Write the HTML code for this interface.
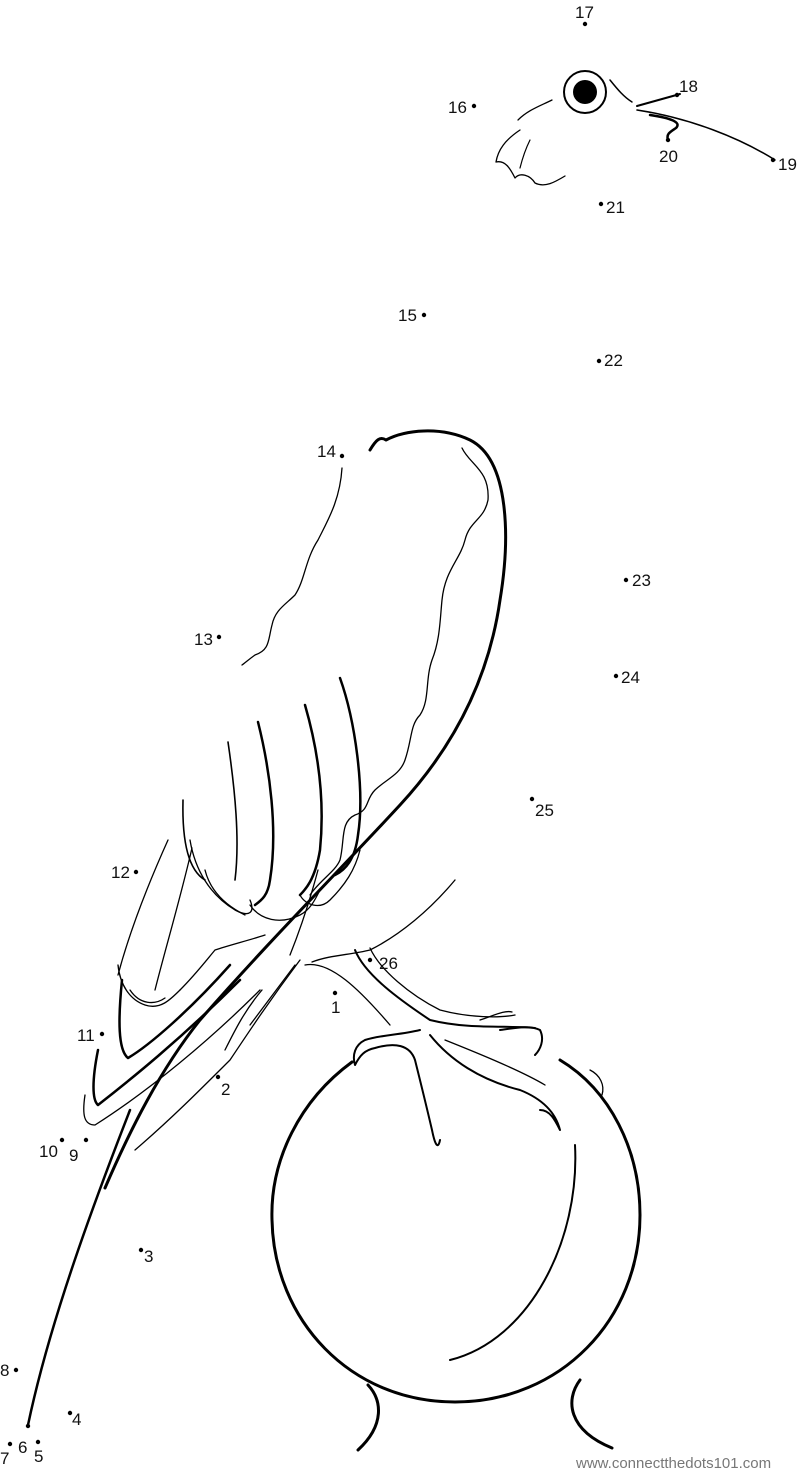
<!DOCTYPE html>
<html><head><meta charset="utf-8"><style>
html,body{margin:0;padding:0;background:#fff}
svg{display:block}
text{font-family:"Liberation Sans",sans-serif;font-size:17px;fill:#111}
</style></head><body>
<svg width="800" height="1472" viewBox="0 0 800 1472" xmlns="http://www.w3.org/2000/svg">
<g fill="none" stroke="#000" stroke-linecap="round" stroke-linejoin="round">
<!-- head -->
<circle cx="585" cy="92" r="21" stroke-width="2"/>
<circle cx="585" cy="92" r="12" fill="#000" stroke="none"/>
<path d="M610 80 C618 90 624 97 632 102" stroke-width="1.5"/>
<path d="M637 106 L680 94" stroke-width="2"/>
<path d="M637 110 C690 118 740 138 775 160" stroke-width="1.5"/>
<path d="M650 115 C670 118 682 122 676 128 C670 132 666 134 668 140" stroke-width="2.5"/>
<path d="M552 100 C540 106 528 110 518 120" stroke-width="1.3"/>
<path d="M520 130 C505 140 498 150 496 162 C505 160 510 168 515 178 C520 172 530 175 535 183 C545 188 555 182 565 176" stroke-width="1.3"/>
<path d="M530 140 C525 150 522 160 520 168" stroke-width="1.2"/>
<!-- wing outline -->
<path d="M370 450 C376 440 380 436 386 440 C405 430 440 426 470 440 C510 460 510 540 500 600 C490 670 460 740 400 805 C340 870 270 940 200 1020 C160 1070 130 1130 105 1188" stroke-width="3"/>
<path d="M462 448 C470 465 490 470 488 500 C484 520 470 520 465 540 C460 560 445 570 442 600 C440 620 440 640 432 660 C425 680 430 700 420 715 C410 725 412 740 405 760 C400 775 385 780 375 790 C365 800 370 810 355 815 C340 822 345 840 340 860 C335 872 320 880 310 895" stroke-width="1.3"/>
<path d="M342 468 C340 500 328 520 318 540 C305 560 305 580 295 595 C285 605 275 610 272 625 C268 640 270 650 255 655 C248 660 245 663 242 665" stroke-width="1.3"/>
<!-- feathers -->
<path d="M340 678 C355 720 365 790 358 835 C355 860 345 870 335 875" stroke-width="2.5"/>
<path d="M305 705 C318 750 325 800 320 850 C315 880 305 890 300 895" stroke-width="2.5"/>
<path d="M258 722 C270 770 278 830 270 880 C268 895 262 900 255 905" stroke-width="2.5"/>
<path d="M228 742 C235 790 240 840 235 880" stroke-width="1.6"/>
<path d="M183 800 C182 840 188 870 205 880" stroke-width="1.6"/>
<path d="M190 840 C195 870 210 895 235 910 C250 918 255 912 250 900" stroke-width="1.3"/>
<path d="M205 870 C210 890 225 905 245 915" stroke-width="1.3"/>
<path d="M250 905 C260 920 280 925 300 915 C310 910 315 900 320 890" stroke-width="1.3"/>
<path d="M300 895 C305 905 320 910 330 900 C345 885 355 870 360 850" stroke-width="1.3"/>
<path d="M168 840 C150 880 130 930 118 975" stroke-width="1.3"/>
<path d="M192 848 C180 900 165 950 155 990" stroke-width="1.3"/>
<path d="M118 965 C120 985 130 1000 145 1005 C160 1010 170 1000 180 990" stroke-width="1.3"/>
<path d="M130 990 C140 1005 155 1005 165 998" stroke-width="1.3"/>
<path d="M180 990 C195 975 205 962 215 950 C230 945 250 940 265 935" stroke-width="1.3"/>
<path d="M122 980 C118 1020 118 1050 128 1058 C150 1045 190 1010 230 965" stroke-width="2.5"/>
<path d="M98 1050 C92 1080 92 1100 98 1105 C130 1080 180 1040 240 980" stroke-width="2.5"/>
<path d="M85 1095 C82 1115 84 1125 95 1125 C150 1090 210 1040 260 990" stroke-width="1.3"/>
<path d="M135 1150 C170 1120 200 1090 230 1060 C250 1030 270 1000 300 960" stroke-width="1.3"/>
<path d="M225 1050 C235 1030 245 1010 262 990" stroke-width="1.3"/>
<path d="M250 1025 C265 1005 280 985 295 965" stroke-width="1.3"/>
<path d="M318 870 C310 900 300 930 290 955" stroke-width="1.3"/>
<path d="M455 880 C430 910 400 935 370 950 C350 955 330 955 312 962" stroke-width="1.3"/>
<!-- tail -->
<path d="M130 1110 C95 1200 50 1320 28 1425" stroke-width="2.5"/>
<!-- feet -->
<path d="M305 965 C330 960 360 990 390 1025" stroke-width="1.3"/>
<path d="M355 950 C365 975 400 1000 430 1020 C470 1030 510 1025 535 1028" stroke-width="2"/>
<path d="M370 948 C380 970 410 995 440 1010 C470 1018 500 1018 515 1015" stroke-width="1.3"/>
<path d="M420 1030 C400 1035 380 1035 365 1040 C355 1045 352 1055 355 1065 C360 1055 365 1050 375 1048 C395 1042 410 1045 415 1060 C420 1080 425 1100 432 1130 C435 1145 438 1150 440 1140" stroke-width="2"/>
<path d="M430 1035 C450 1060 480 1080 520 1090 C540 1098 555 1110 560 1130 C555 1120 550 1110 540 1110" stroke-width="2"/>
<path d="M445 1040 C470 1050 520 1070 545 1085" stroke-width="1.3"/>
<path d="M500 1030 C515 1028 530 1025 540 1030 C545 1040 540 1050 535 1055" stroke-width="2"/>
<path d="M480 1020 C495 1015 505 1010 512 1012" stroke-width="1.3"/>
<path d="M590 1070 C600 1075 605 1085 602 1095" stroke-width="1.3"/>
<!-- ball -->
<path d="M352 1062 C300 1100 270 1160 272 1220 C274 1320 350 1402 455 1402 C560 1402 640 1320 640 1215 C640 1150 610 1090 560 1060" stroke-width="3"/>
<path d="M575 1145 C580 1240 530 1340 450 1360" stroke-width="2"/>
<path d="M368 1385 C382 1400 385 1425 358 1450" stroke-width="3"/>
<path d="M580 1380 C565 1400 568 1430 612 1448" stroke-width="3"/>
</g>
<g fill="#000">
<circle cx="585" cy="24" r="2.2"/><circle cx="474" cy="106" r="2.2"/><circle cx="677" cy="95" r="2.2"/>
<circle cx="773" cy="160" r="2.2"/><circle cx="668" cy="140" r="2.2"/><circle cx="601" cy="204" r="2.2"/>
<circle cx="424" cy="315" r="2.2"/><circle cx="599" cy="361" r="2.2"/><circle cx="342" cy="456" r="2.2"/>
<circle cx="626" cy="580" r="2.2"/><circle cx="219" cy="637" r="2.2"/><circle cx="616" cy="676" r="2.2"/>
<circle cx="532" cy="799" r="2.2"/><circle cx="136" cy="872" r="2.2"/><circle cx="370" cy="960" r="2.2"/>
<circle cx="335" cy="993" r="2.2"/><circle cx="102" cy="1034" r="2.2"/><circle cx="218" cy="1077" r="2.2"/>
<circle cx="62" cy="1140" r="2.2"/><circle cx="86" cy="1140" r="2.2"/><circle cx="141" cy="1250" r="2.2"/>
<circle cx="16" cy="1370" r="2.2"/><circle cx="70" cy="1413" r="2.2"/><circle cx="28" cy="1426" r="2.2"/>
<circle cx="10" cy="1444" r="2.2"/><circle cx="38" cy="1442" r="2.2"/>
</g>
<text x="575" y="18">17</text>
<text x="448" y="113">16</text>
<text x="679" y="92">18</text>
<text x="778" y="170">19</text>
<text x="659" y="162">20</text>
<text x="606" y="213">21</text>
<text x="398" y="321">15</text>
<text x="604" y="366">22</text>
<text x="317" y="457">14</text>
<text x="632" y="586">23</text>
<text x="194" y="645">13</text>
<text x="621" y="683">24</text>
<text x="535" y="816">25</text>
<text x="111" y="878">12</text>
<text x="379" y="969">26</text>
<text x="331" y="1013">1</text>
<text x="77" y="1041">11</text>
<text x="221" y="1095">2</text>
<text x="39" y="1157">10</text>
<text x="69" y="1161">9</text>
<text x="144" y="1262">3</text>
<text x="0" y="1376">8</text>
<text x="72" y="1425">4</text>
<text x="18" y="1453">6</text>
<text x="0" y="1464">7</text>
<text x="34" y="1462">5</text>
<text x="576" y="1468" style="font-size:15px;fill:#777">www.connectthedots101.com</text>
</svg>
</body></html>
